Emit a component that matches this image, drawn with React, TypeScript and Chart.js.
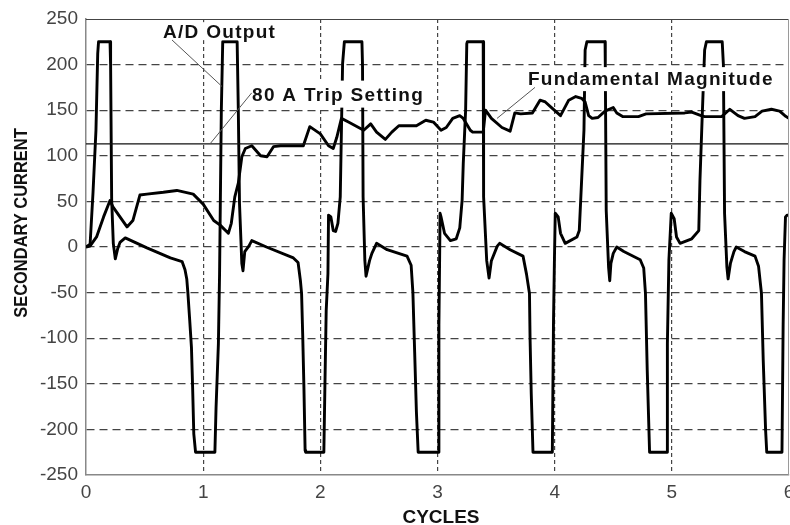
import { useEffect, useRef } from "react";
import { Chart, registerables } from "chart.js";

Chart.register(...registerables);

// ---- tick labels ----
const xTicks = [0, 1, 2, 3, 4, 5, 6];
const yTicks = [-250, -200, -150, -100, -50, 0, 50, 100, 150, 200, 250];

// ---- A/D Output (saturated CT secondary current) ----
const adCycles = [
  0, 0.035, 0.06, 0.085, 0.1, 0.107, 0.205, 0.21, 0.219, 0.233, 0.25, 0.27, 0.29, 0.335, 0.52, 0.72, 0.82, 0.845,
  0.86, 0.87, 0.885, 0.9, 0.91, 0.92, 0.935, 1.1, 1.11, 1.13, 1.14, 1.155, 1.167, 1.29, 1.3, 1.31, 1.33, 1.34,
  1.355, 1.39, 1.415, 1.54, 1.77, 1.81, 1.83, 1.84, 1.85, 1.86, 1.87, 1.875, 2.03, 2.04, 2.05, 2.065, 2.07, 2.09,
  2.11, 2.13, 2.15, 2.17, 2.18, 2.19, 2.205, 2.355, 2.36, 2.365, 2.38, 2.39, 2.42, 2.44, 2.48, 2.57, 2.74, 2.775,
  2.79, 2.805, 2.82, 2.835, 3.005, 3.012, 3.018, 3.022, 3.03, 3.06, 3.11, 3.16, 3.19, 3.21, 3.22, 3.24, 3.25,
  3.255, 3.39, 3.392, 3.395, 3.42, 3.44, 3.46, 3.51, 3.53, 3.62, 3.73, 3.76, 3.785, 3.79, 3.8, 3.815, 3.98, 3.99,
  3.998, 4.005, 4.03, 4.05, 4.09, 4.19, 4.21, 4.23, 4.25, 4.26, 4.275, 4.43, 4.432, 4.44, 4.46, 4.47, 4.48, 4.5,
  4.53, 4.59, 4.73, 4.76, 4.775, 4.79, 4.81, 4.96, 4.962, 4.975, 4.995, 5.02, 5.04, 5.07, 5.17, 5.23, 5.24, 5.26,
  5.28, 5.295, 5.43, 5.44, 5.45, 5.47, 5.48, 5.5, 5.53, 5.55, 5.62, 5.71, 5.74, 5.765, 5.78, 5.8, 5.81, 5.94,
  5.95, 5.958, 5.97, 5.985, 6.0,
];
const adValues = [
  0, 3, 60, 128, 212, 225, 225, 200, 52, 4, -13, -2, 5, 10, -1, -12, -16, -25,
  -35, -51, -80, -110, -154, -205, -225, -225, -176, -106, -29, 150, 225, 225, 150, 48, -18, -26,
  -5, 1, 7, 0, -12, -17, -37, -51, -99, -154, -223, -225, -225, -145, -70, -29, 35, 33,
  18, 17, 26, 55, 128, 201, 225, 225, 200, 55, -15, -32, -15, -7, 4, -3, -10, -20,
  -50, -115, -181, -225, -225, -85, -14, 37, 33, 15, 7, 9, 21, 51, 92, 150, 223,
  225, 225, 212, 55, -15, -34, -15, 1, 4, -3, -10, -30, -51, -100, -160, -225, -225, -82,
  -14, 37, 33, 15, 4, 11, 18, 73, 128, 216, 225, 225, 200, 40, -22, -37, -18, -7,
  0, -5, -14, -23, -51, -135, -225, -225, -106, -14, 37, 31, 11, 4, 9, 18, 73, 146,
  216, 225, 225, 200, 37, -22, -35, -18, -5, 0, -5, -10, -21, -51, -124, -200, -225, -225,
  -85, -14, 33, 35, 35,
];

// ---- Fundamental Magnitude ----
const fundCycles = [
  0, 0.034, 0.09, 0.15, 0.205, 0.23, 0.29, 0.35, 0.4, 0.46, 0.52, 0.66, 0.775, 0.915, 1.0, 1.09, 1.145, 1.215,
  1.24, 1.27, 1.3, 1.33, 1.36, 1.415, 1.49, 1.545, 1.6, 1.66, 1.855, 1.91, 2.0, 2.07, 2.11, 2.14, 2.18, 2.24,
  2.37, 2.43, 2.48, 2.555, 2.61, 2.67, 2.82, 2.9, 2.965, 3.03, 3.075, 3.13, 3.19, 3.22, 3.28, 3.3, 3.39, 3.41,
  3.46, 3.55, 3.62, 3.66, 3.71, 3.81, 3.875, 3.92, 3.98, 4.05, 4.12, 4.18, 4.23, 4.26, 4.29, 4.32, 4.37, 4.43,
  4.5, 4.53, 4.58, 4.715, 4.78, 5.11, 5.17, 5.25, 5.28, 5.425, 5.495, 5.565, 5.62, 5.71, 5.77, 5.85, 5.92, 5.965,
  6.0,
];
const fundValues = [
  0, 1, 11, 33, 51, 44, 33, 22, 29, 57, 58, 60, 62, 58, 47, 29, 24, 15,
  26, 55, 70, 99, 108, 111, 100, 99, 110, 111, 111, 132, 124, 111, 108, 120, 141, 137,
  128, 135, 126, 118, 126, 133, 133, 139, 137, 128, 131, 141, 144, 141, 128, 126, 126, 150,
  141, 131, 127, 147, 146, 147, 161, 159, 152, 144, 161, 165, 163, 159, 144, 141, 142, 149,
  153, 147, 143, 143, 146, 147, 148, 144, 143, 143, 151, 144, 141, 143, 149, 151, 149, 144,
  141,
];

// ---- 80 A Trip Setting ----
const tripCycles = [0, 6];
const tripValues = [113, 113];

// ---- annotations (text anchor and leader line, in data units) ----
const annotations = [
  { text: "A/D Output", at: [0.657, 229], from: [0.734, 227], to: [1.161, 176], up: 16, down: 2 },
  { text: "80 A Trip Setting", at: [1.417, 160.5], from: [1.414, 169], to: [1.058, 113], up: 20, down: 7 },
  { text: "Fundamental Magnitude", at: [3.772, 177.5], from: [3.832, 175], to: [3.508, 141], up: 18, down: 6 },
];

const FONT = '"Liberation Sans", Arial, Helvetica, sans-serif';

const toXY = (xs: number[], ys: number[]) => xs.map((x, i) => ({ x, y: ys[i] }));

const overlayPlugin = {
  id: "overlay",
  afterDatasetsDraw(chart: any) {
    const { ctx, scales, chartArea } = chart;
    const xs = scales.x;
    const ys = scales.y;
    ctx.save();
    ctx.font = `bold 19px ${FONT}`;
    (ctx as any).letterSpacing = "1.3px";
    ctx.textAlign = "left";
    ctx.textBaseline = "alphabetic";
    for (const a of annotations) {
      const tx = xs.getPixelForValue(a.at[0]);
      const ty = ys.getPixelForValue(a.at[1]);
      const w = ctx.measureText(a.text).width;
      ctx.fillStyle = "#ffffff";
      ctx.fillRect(tx - 2, ty - a.up, w + 4, a.up + a.down);
    }
    for (const a of annotations) {
      const tx = xs.getPixelForValue(a.at[0]);
      const ty = ys.getPixelForValue(a.at[1]);
      ctx.fillStyle = "#111111";
      ctx.fillText(a.text, tx, ty);
      ctx.strokeStyle = "#555555";
      ctx.lineWidth = 1;
      ctx.beginPath();
      ctx.moveTo(xs.getPixelForValue(a.from[0]), ys.getPixelForValue(a.from[1]));
      ctx.lineTo(xs.getPixelForValue(a.to[0]), ys.getPixelForValue(a.to[1]));
      ctx.stroke();
    }
    // top and right frame
    ctx.strokeStyle = "#444444";
    ctx.lineWidth = 1.2;
    ctx.beginPath();
    ctx.moveTo(chartArea.left, chartArea.top + 0.5);
    ctx.lineTo(chartArea.right, chartArea.top + 0.5);
    ctx.stroke();
    ctx.strokeStyle = "#9a9a9a";
    ctx.lineWidth = 1;
    ctx.beginPath();
    ctx.moveTo(chartArea.right - 0.5, chartArea.top);
    ctx.lineTo(chartArea.right - 0.5, chartArea.bottom);
    ctx.stroke();
    ctx.restore();
  },
  afterDraw(chart: any) {
    const { ctx } = chart;
    ctx.save();
    (ctx as any).letterSpacing = "0px";
    ctx.fillStyle = "#111111";
    ctx.font = `bold 19px ${FONT}`;
    ctx.textAlign = "center";
    ctx.textBaseline = "alphabetic";
    ctx.fillText("CYCLES", 441, 523);
    ctx.translate(27, 223);
    ctx.rotate(-Math.PI / 2);
    ctx.scale(0.866, 1);
    ctx.fillText("SECONDARY CURRENT", 0, 0);
    ctx.restore();
  },
};

export default function App() {
  const ref = useRef<HTMLCanvasElement | null>(null);

  useEffect(() => {
    if (!ref.current) return;
    const edgeX = (c: any) =>
      c.tick && (c.tick.value === xTicks[0] || c.tick.value === xTicks[xTicks.length - 1]) ? "rgba(0,0,0,0)" : "#444444";
    const edgeY = (c: any) =>
      c.tick && (c.tick.value === yTicks[0] || c.tick.value === yTicks[yTicks.length - 1]) ? "rgba(0,0,0,0)" : "#444444";
    const chart = new Chart(ref.current, {
      type: "line",
      data: {
        datasets: [
          {
            label: "80 A Trip Setting",
            data: toXY(tripCycles, tripValues),
            borderColor: "#111111",
            borderWidth: 1.2,
            pointRadius: 0,
          },
          {
            label: "Fundamental Magnitude",
            data: toXY(fundCycles, fundValues),
            borderColor: "#000000",
            borderWidth: 2.9,
            pointRadius: 0,
          },
          {
            label: "A/D Output",
            data: toXY(adCycles, adValues),
            borderColor: "#000000",
            borderWidth: 2.9,
            pointRadius: 0,
          },
        ],
      },
      options: {
        animation: false,
        responsive: false,
        devicePixelRatio: 1,
        layout: { padding: { left: 0, top: 19, right: 1, bottom: 0 } },
        plugins: { legend: { display: false }, tooltip: { enabled: false } },
        elements: { line: { tension: 0, borderJoinStyle: "round" } },
        scales: {
          x: {
            type: "linear",
            min: xTicks[0],
            max: xTicks[xTicks.length - 1],
            afterBuildTicks: (s: any) => {
              s.ticks = xTicks.map((v) => ({ value: v }));
            },
            afterFit: (s: any) => {
              s.height = 50;
              s.paddingLeft = 0;
              s.paddingRight = 0;
            },
            ticks: {
              padding: 6,
              color: "#444444",
              font: { family: FONT, size: 19 },
              autoSkip: false,
              maxRotation: 0,
              callback: (v: any) => String(v),
            },
            grid: { color: edgeX, lineWidth: 1.2, drawTicks: false },
            border: { display: true, color: "#888888", width: 1.5, dash: [4, 3] },
          },
          y: {
            type: "linear",
            min: yTicks[0],
            max: yTicks[yTicks.length - 1],
            afterBuildTicks: (s: any) => {
              s.ticks = yTicks.map((v) => ({ value: v }));
            },
            afterFit: (s: any) => {
              s.width = 86;
              s.paddingTop = 0;
              s.paddingBottom = 0;
            },
            ticks: {
              padding: 8,
              color: "#444444",
              font: { family: FONT, size: 19 },
              autoSkip: false,
              callback: (v: any) => String(v),
            },
            grid: { color: edgeY, lineWidth: 1.2, drawTicks: false },
            border: { display: true, color: "#888888", width: 1.5, dash: [8, 5] },
          },
        },
      },
      plugins: [overlayPlugin],
    } as any);
    return () => chart.destroy();
  }, []);

  return (
    <div style={{ position: "fixed", left: 0, top: 0, width: 790, height: 525, background: "#ffffff" }}>
      <canvas ref={ref} width={790} height={525} style={{ display: "block" }} />
    </div>
  );
}
